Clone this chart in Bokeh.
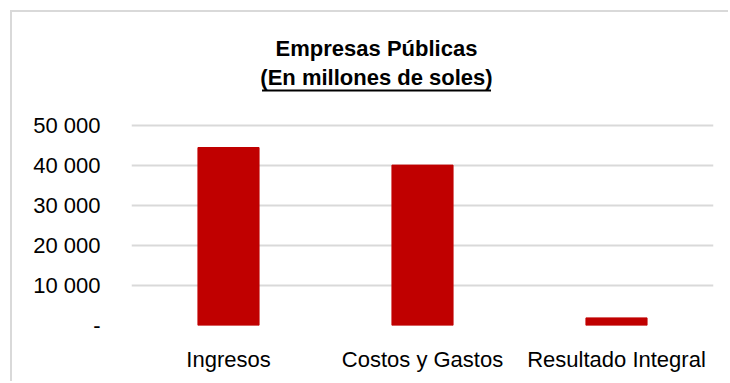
from bokeh.plotting import figure
from bokeh.models import ColumnDataSource, FixedTicker
from bokeh.transform import dodge
from bokeh.core.properties import value
from bokeh.embed import file_html
from bokeh.resources import INLINE

# ---- data ----
categories = ["Ingresos", "Costos y Gastos", "Resultado Integral"]
values = [44500, 40100, 1900]
y_ticks = [0, 10000, 20000, 30000, 40000, 50000]
y_tick_labels = ["-", "10 000", "20 000", "30 000", "40 000", "50 000"]
title_line1 = "Empresas Públicas"
title_line2 = "(En millones de soles)"

# ---- styles / layout ----
FONT = "Liberation Sans"
BAR = "#c00000"
GRID = "#d9d9d9"
Y_TOP = 78250          # frame extends up to hold the two-line title
TITLE_Y1 = 69250
TITLE_Y2 = 62000
UNDERLINE_Y = 58750
TITLE_SHIFT_PX = -46
TITLE_SHIFT_CAT = -0.237
UNDERLINE_W = 229

src = ColumnDataSource(data=dict(cat=categories, val=values))

p = figure(x_range=categories, y_range=(0, Y_TOP), width=718, height=371,
           output_backend="svg", toolbar_location=None,
           min_border_left=119, min_border_right=17,
           min_border_top=0, min_border_bottom=58)
p.styles = {"border-left": "2px solid #d9d9d9", "border-top": "2px solid #d9d9d9",
            "margin-left": "10px", "margin-top": "10px"}
p.outline_line_color = None
p.background_fill_color = "white"
p.border_fill_color = "white"

p.vbar(x="cat", top="val", width=0.315, source=src, color=BAR)

p.xgrid.grid_line_color = None
p.ygrid.grid_line_color = GRID
p.ygrid.grid_line_width = 2

p.yaxis.ticker = FixedTicker(ticks=y_ticks)
p.yaxis.major_label_overrides = {t: l for t, l in zip(y_ticks, y_tick_labels)}
for ax in (p.xaxis, p.yaxis):
    ax.axis_line_color = None
    ax.major_tick_line_color = None
    ax.minor_tick_line_color = None
    ax.major_tick_in = 0
    ax.major_tick_out = 0
    ax.major_label_text_font = FONT
    ax.major_label_text_font_size = "22px"
    ax.major_label_text_color = "black"
p.yaxis.major_label_standoff = 31
p.xaxis.major_label_standoff = 21

# ---- title (two lines, second underlined) ----
mid = categories[1]
title_src = ColumnDataSource(data=dict(x=[mid, mid], y=[TITLE_Y1, TITLE_Y2],
                                       text=[title_line1, title_line2]))
p.text(x="x", y="y", text="text", source=title_src, x_offset=TITLE_SHIFT_PX,
       text_font=value(FONT), text_font_size="22px", text_font_style="bold",
       text_align="center", text_baseline="alphabetic", text_color="black")
ul_src = ColumnDataSource(data=dict(x=[mid], y=[UNDERLINE_Y]))
p.rect(x=dodge("x", TITLE_SHIFT_CAT, range=p.x_range), y="y", source=ul_src,
       width=UNDERLINE_W, height=2, width_units="screen", height_units="screen",
       fill_color="black", line_color=None)

open("out.html", "w").write(file_html(p, INLINE))
